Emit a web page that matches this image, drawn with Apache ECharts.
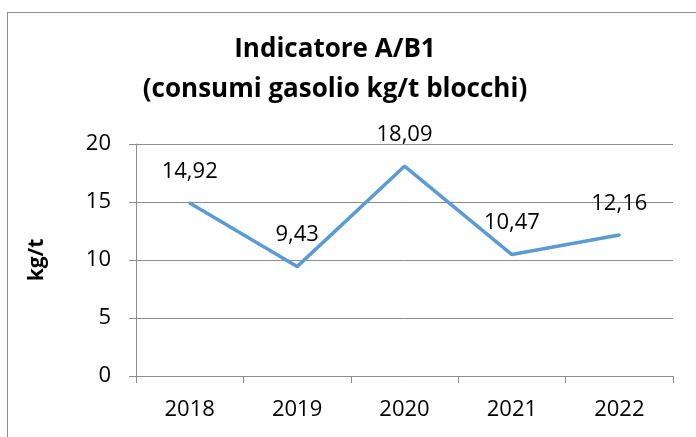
<!DOCTYPE html>
<html>
<head>
<meta charset="utf-8">
<script src="https://cdn.jsdelivr.net/npm/echarts@6/dist/echarts.min.js"></script>
<style>
  html, body { margin: 0; padding: 0; background: #fff; }
  #frame { position: absolute; left: 7px; top: 12px; width: 700px; height: 440px; border: 1px solid #8c8c8c; box-sizing: border-box; }
  #chart { position: absolute; left: 0; top: 0; width: 696px; height: 437px; }
</style>
</head>
<body>
<div id="frame"></div>
<div id="chart"></div>
<script>
const years = ["2018", "2019", "2020", "2021", "2022"];
const values = [14.92, 9.43, 18.09, 10.47, 12.16];

const chart = echarts.init(document.getElementById("chart"));
chart.setOption({
  animation: false,
  textStyle: { fontFamily: "Open Sans" },
  title: {
    text: "Indicatore A/B1\n(consumi gasolio kg/t blocchi)",
    left: 330,
    textAlign: "center",
    top: 25,
    textStyle: { fontSize: 26, fontWeight: "bold", color: "#000", lineHeight: 40, fontFamily: "Open Sans" }
  },
  grid: { left: 136, right: 23, top: 144, bottom: 61 },
  xAxis: {
    type: "category",
    data: years,
    boundaryGap: true,
    axisLine: { lineStyle: { color: "#8c8c8c", width: 1 } },
    axisTick: { show: true, length: 7, lineStyle: { color: "#8c8c8c" } },
    axisLabel: { fontSize: 22, color: "#000", margin: 23 }
  },
  yAxis: {
    type: "value",
    min: 0,
    max: 20,
    interval: 5,
    name: "kg/t",
    nameLocation: "middle",
    nameGap: 88,
    nameRotate: 90,
    nameTextStyle: { fontSize: 21, fontWeight: "bold", color: "#000" },
    axisLine: { show: true, lineStyle: { color: "#8c8c8c" } },
    axisTick: { show: true, length: 7, lineStyle: { color: "#8c8c8c" } },
    axisLabel: { fontSize: 22, color: "#000", margin: 25 },
    splitLine: { lineStyle: { color: "#8c8c8c" } }
  },
  series: [{
    type: "line",
    data: values,
    symbol: "circle",
    symbolSize: 3,
    showSymbol: true,
    lineStyle: { color: "#5b9bd5", width: 3.5 },
    itemStyle: { color: "#5b9bd5" },
    label: {
      show: true,
      position: "top",
      distance: 19,
      fontSize: 22,
      color: "#000",
      formatter: p => p.value.toFixed(2).replace(".", ",")
    }
  }]
});
</script>
</body>
</html>
